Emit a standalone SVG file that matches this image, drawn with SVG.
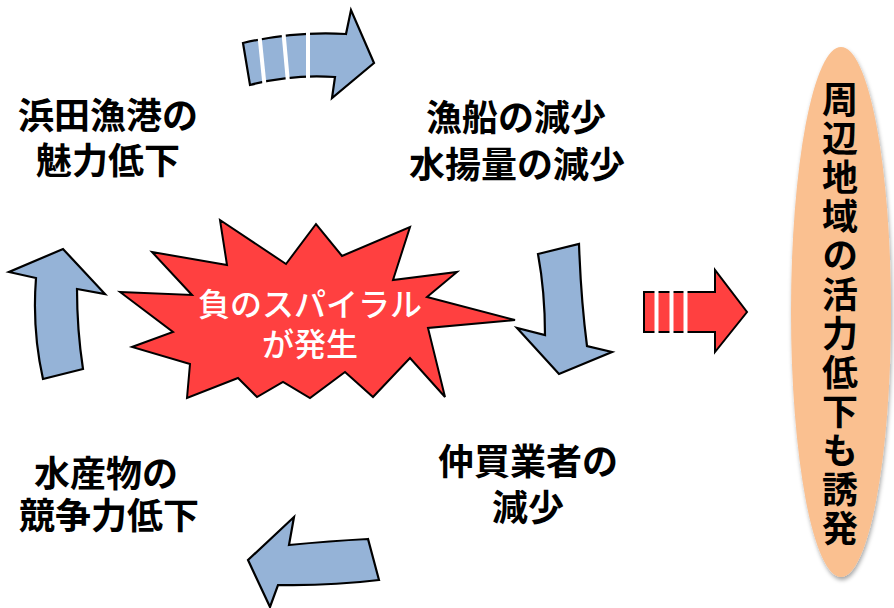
<svg xmlns="http://www.w3.org/2000/svg" width="894" height="608" viewBox="0 0 894 608">
<style>
.arrow{fill:#95B3D7;stroke:#000;stroke-width:2.2;stroke-linejoin:miter}
.red{fill:#FF4040;stroke:#000;stroke-width:2;stroke-linejoin:miter}
.gap{stroke:#fff;stroke-width:4}
.lbl{font-family:"Noto Sans CJK JP","Noto Sans",sans-serif;font-weight:bold;font-size:36px;fill:#000;text-anchor:middle}
.wlbl{font-family:"Noto Sans CJK JP","Noto Sans",sans-serif;font-weight:500;font-size:32px;fill:#fff;text-anchor:middle}
</style>
<defs>
<filter id="sh" x="-20%" y="-10%" width="140%" height="120%">
<feDropShadow dx="1" dy="3" stdDeviation="2" flood-color="#000" flood-opacity="0.35"/>
</filter>
</defs>
<rect width="894" height="608" fill="#fff"/>
<g id="connectors">
<g id="arrow-top">
<path class="arrow" d="M243,43 Q295,31 346,34 L351,10 L374,63 L332,98 L335,77 Q292,74 250,85 Z"/>
<line class="gap" x1="259.5" y1="36" x2="265" y2="90"/>
<line class="gap" x1="283.5" y1="33" x2="288.5" y2="88"/>
<line class="gap" x1="308" y1="31" x2="308" y2="86"/>
</g>
<path id="arrow-right-down" class="arrow" d="M538,254 L579,244 Q581,300 587,346 L612,352 L559,374 L517,328 L545,335 Q545,292 538,254 Z"/>
<path id="arrow-bottom" class="arrow" d="M368,539 Q330,541 289,545 L294,517 L248,560 L270,607 L278,585 Q330,586 379,580 Z"/>
<path id="arrow-left-up" class="arrow" d="M43,379 L83,369 Q77,330 77,289 L105,294 L63,249 L9,272 L36,278 Q32,330 43,379 Z"/>
<g id="arrow-red">
<path class="red" d="M644,292 L715,292 L715,270 L747,312 L715,352 L715,332 L644,332 Z"/>
<line class="gap" x1="656.5" y1="288" x2="656.5" y2="336" stroke-width="3"/>
<line class="gap" x1="671.5" y1="288" x2="671.5" y2="336" stroke-width="3"/>
<line class="gap" x1="685.5" y1="288" x2="685.5" y2="336" stroke-width="3"/>
</g>
</g>
<g id="node-center">
<polygon class="red" points="120,292 192,295 152,252 227,265 220,220 286,264 316,224 342,256 410,227 393,280 457,272 427,297 515,320 428,328 445,397 410,358 373,397 345,372 310,398 283,382 257,397 238,378 187,398 190,364 132,347 173,332"/>
<text class="wlbl"><tspan x="310" y="316">負のスパイラル</tspan><tspan x="310" y="356">が発生</tspan></text>
</g>
<g id="node-hamada">
<text class="lbl"><tspan x="108" y="129">浜田漁港の</tspan><tspan x="108" y="174">魅力低下</tspan></text>
</g>
<g id="node-gyosen">
<text class="lbl"><tspan x="516" y="131">漁船の減少</tspan><tspan x="517" y="178">水揚量の減少</tspan></text>
</g>
<g id="node-suisan">
<text class="lbl"><tspan x="106" y="487">水産物の</tspan><tspan x="109" y="529">競争力低下</tspan></text>
</g>
<g id="node-nakagai">
<text class="lbl"><tspan x="528" y="475">仲買業者の</tspan><tspan x="528" y="521">減少</tspan></text>
</g>
<g id="node-region">
<ellipse cx="841" cy="312" rx="50" ry="265" fill="#FAC090" filter="url(#sh)"/>
<text class="lbl" x="840" y="315" writing-mode="vertical-rl" letter-spacing="3">周辺地域の活力低下も誘発</text>
</g>
</svg>
